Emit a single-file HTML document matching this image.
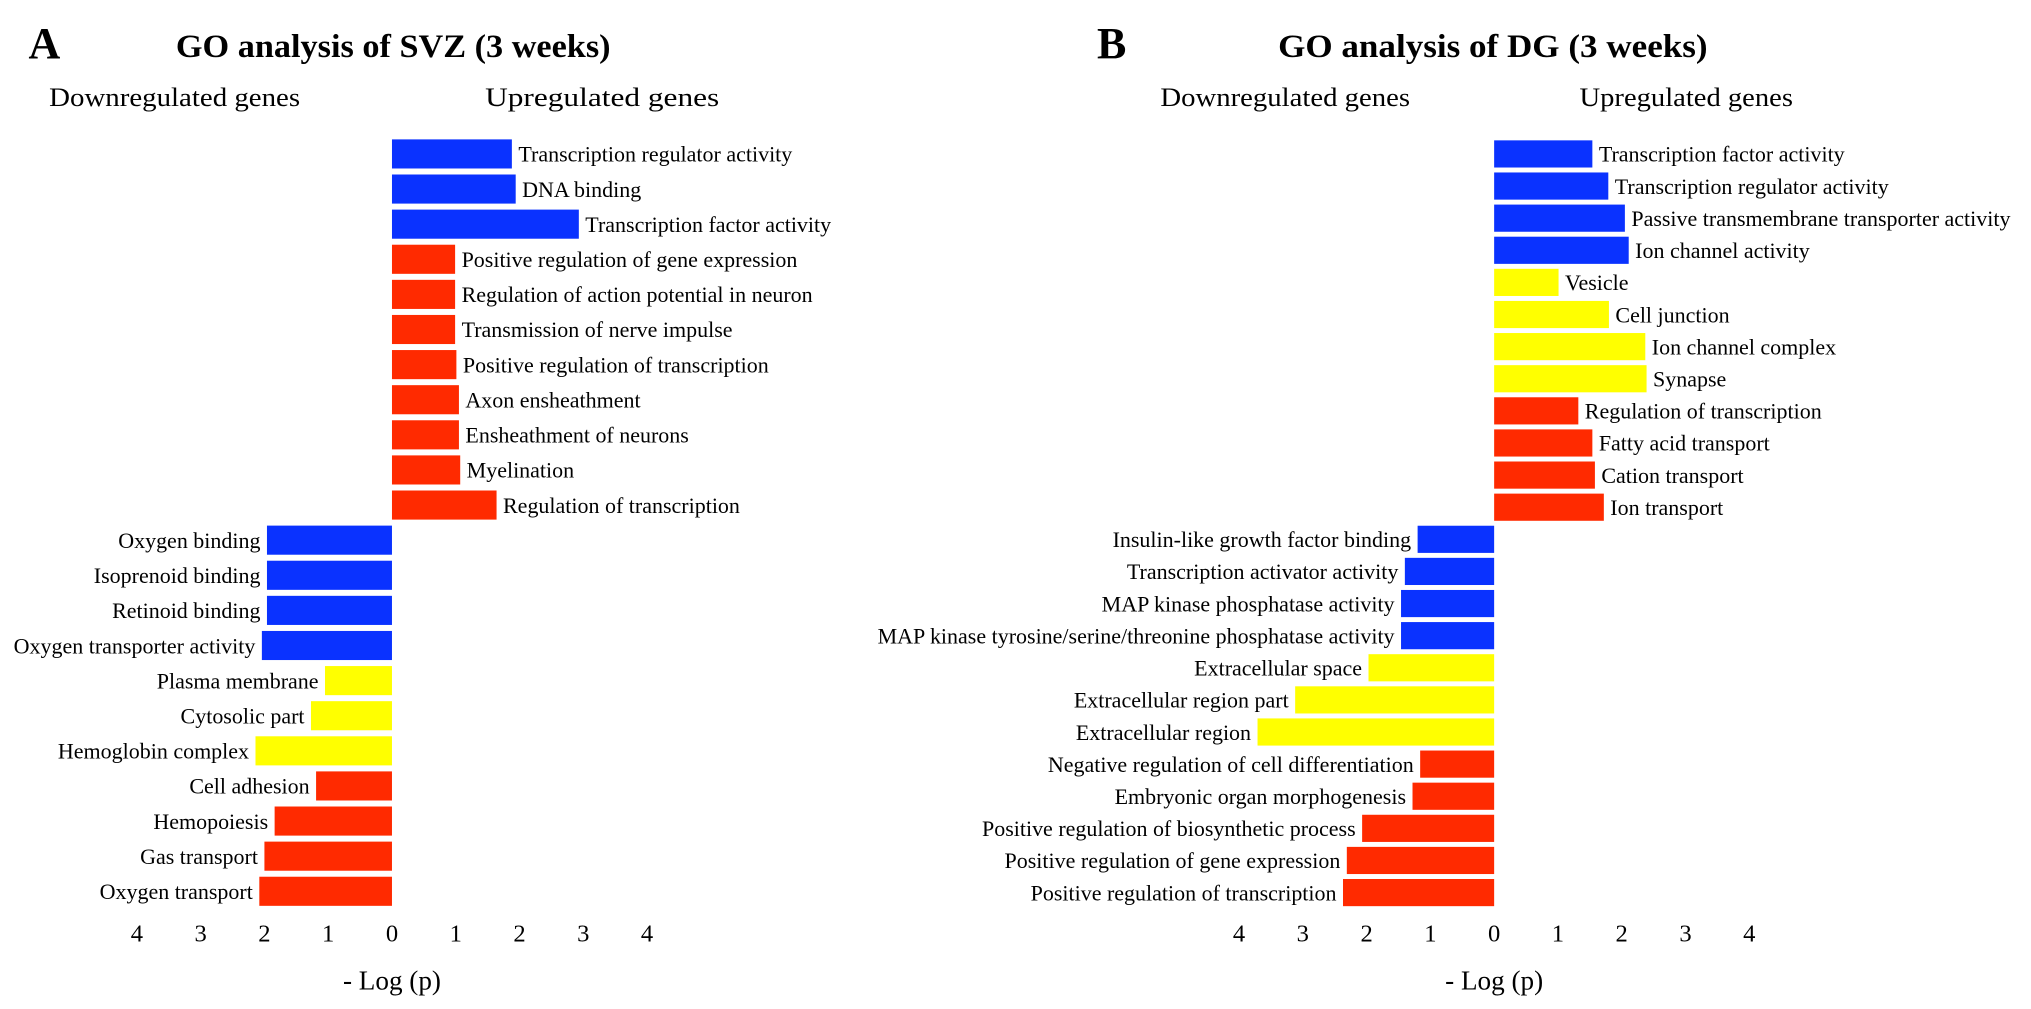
<!DOCTYPE html>
<html><head><meta charset="utf-8"><style>
html,body{margin:0;padding:0;background:#fff;}
svg{display:block;font-family:"Liberation Serif",serif;}
</style></head><body>
<svg id="chart" width="2031" height="1009" viewBox="0 0 1570 780" preserveAspectRatio="none" xmlns="http://www.w3.org/2000/svg">
<rect x="0" y="0" width="1570" height="780" fill="#fff"/>
<text x="22" y="45" font-size="34" font-weight="bold">A</text>
<text x="304" y="44" font-size="25" font-weight="bold" text-anchor="middle" textLength="336" lengthAdjust="spacingAndGlyphs">GO analysis of SVZ (3 weeks)</text>
<text x="38" y="82" font-size="20" textLength="194" lengthAdjust="spacingAndGlyphs">Downregulated genes</text>
<text x="375" y="82" font-size="20" textLength="181" lengthAdjust="spacingAndGlyphs">Upregulated genes</text>
<text x="848" y="45" font-size="34" font-weight="bold">B</text>
<text x="1154" y="44" font-size="25" font-weight="bold" text-anchor="middle" textLength="332" lengthAdjust="spacingAndGlyphs">GO analysis of DG (3 weeks)</text>
<text x="897" y="82" font-size="20" textLength="193" lengthAdjust="spacingAndGlyphs">Downregulated genes</text>
<text x="1221" y="82" font-size="20" textLength="165" lengthAdjust="spacingAndGlyphs">Upregulated genes</text>
<text x="303" y="765" font-size="21" text-anchor="middle">- Log (p)</text>
<text x="1155" y="765" font-size="21" text-anchor="middle">- Log (p)</text>
<g id="marks"></g>
</svg>
<script>
const COLORS = {b:'#0a32ff', r:'#ff2a00', y:'#ffff00'};
const tickValues = [4,3,2,1,0,1,2,3,4];
const tickSigned = [-4,-3,-2,-1,0,1,2,3,4];

const aLabels = ["Transcription regulator activity","DNA binding","Transcription factor activity","Positive regulation of gene expression","Regulation of action potential in neuron","Transmission of nerve impulse","Positive regulation of transcription","Axon ensheathment","Ensheathment of neurons","Myelination","Regulation of transcription","Oxygen binding","Isoprenoid binding","Retinoid binding","Oxygen transporter activity","Plasma membrane","Cytosolic part","Hemoglobin complex","Cell adhesion","Hemopoiesis","Gas transport","Oxygen transport"];
const aValues = [1.88,1.94,2.93,0.99,0.99,0.99,1.01,1.05,1.05,1.07,1.64,-1.96,-1.96,-1.96,-2.04,-1.05,-1.27,-2.14,-1.19,-1.84,-2.0,-2.08];
const aColors = ["b","b","b","r","r","r","r","r","r","r","r","b","b","b","b","y","y","y","r","r","r","r"];

const bLabels = ["Transcription factor activity","Transcription regulator activity","Passive transmembrane transporter activity","Ion channel activity","Vesicle","Cell junction","Ion channel complex","Synapse","Regulation of transcription","Fatty acid transport","Cation transport","Ion transport","Insulin-like growth factor binding","Transcription activator activity","MAP kinase phosphatase activity","MAP kinase tyrosine/serine/threonine phosphatase activity","Extracellular space","Extracellular region part","Extracellular region","Negative regulation of cell differentiation","Embryonic organ morphogenesis","Positive regulation of biosynthetic process","Positive regulation of gene expression","Positive regulation of transcription"];
const bValues = [1.54,1.79,2.05,2.11,1.01,1.80,2.37,2.39,1.32,1.54,1.58,1.72,-1.20,-1.40,-1.46,-1.46,-1.97,-3.12,-3.71,-1.16,-1.28,-2.07,-2.31,-2.37];
const bColors = ["b","b","b","b","y","y","y","y","r","r","r","r","b","b","b","b","y","y","y","r","r","r","r","r"];

const NS='http://www.w3.org/2000/svg';
const g=document.getElementById('marks');
function mk(tag,attrs){const e=document.createElementNS(NS,tag);for(const k in attrs)e.setAttribute(k,attrs[k]);g.appendChild(e);return e;}

function panel(p,labels,values,colors,zero,unit,y0,y1,barH){
  const xs=v=>zero+v*unit;
  const n=labels.length, step=(y1-y0)/(n-1);
  const ys=i=>y0+i*step;
  labels.forEach((lab,i)=>{
    const v=values[i], x=Math.min(xs(0),xs(v)), w=Math.abs(xs(v)-xs(0));
    const r=mk('rect',{x:x,y:ys(i)-barH/2,width:w,height:barH,fill:COLORS[colors[i]]});
    
    
    const t=mk('text',{x:v>=0?xs(v)+5:xs(v)-5,y:ys(i)+6,'font-size':17,'text-anchor':v>=0?'start':'end'});
    t.textContent=lab;
    
    
  });
  tickSigned.forEach((tv,i)=>{
    const t=mk('text',{x:xs(tv),y:728,'font-size':19,'text-anchor':'middle'});
    t.textContent=tickValues[i];
    
    
  });
}
panel('panel-a',aLabels,aValues,aColors,303,49.3,119,689,22.5);
panel('panel-b',bLabels,bValues,bColors,1155,49.3,119,690,21);
</script>
</body></html>
